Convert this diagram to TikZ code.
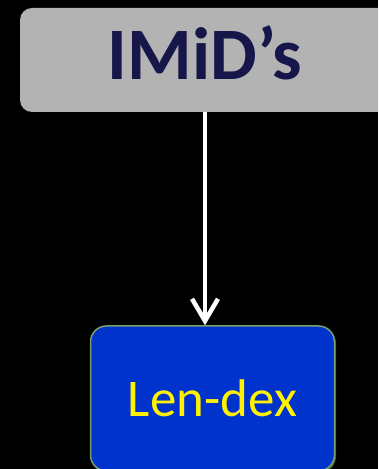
\documentclass[tikz,border=0pt]{standalone}
\usepackage{fontspec}
\setmainfont{Carlito}
\usepackage{tikz}
\usetikzlibrary{arrows.meta,shadows}
\definecolor{greybox}{HTML}{B3B3B3}
\definecolor{navytext}{HTML}{16164A}
\definecolor{bluebox}{HTML}{0033CC}
\definecolor{greenedge}{HTML}{7A9E6C}
\definecolor{greenshade}{HTML}{3F6A34}

\begin{document}
\begin{tikzpicture}[x=1pt,y=1pt]
\fill[black] (0,0) rectangle (378,469);
\clip (0,0) rectangle (378,469);
\node[fill=greybox, rounded corners=12pt, minimum width=370pt, minimum height=104pt,
  text=navytext, font=\fontsize{74}{80}\selectfont\bfseries, text depth=14pt,
  inner sep=0pt] (imids) at (205,409) {IMiD’s};
\node[fill=bluebox, draw=greenedge, line width=1.5pt, rounded corners=16pt,
  minimum width=244pt, minimum height=145pt, text=yellow,
  font=\fontsize{53}{60}\selectfont, inner sep=0pt,
  drop shadow={shadow xshift=1.5pt, shadow yshift=-1.5pt, fill=greenshade, opacity=1}]
  (lendex) at (212.5,70.5) {Len-dex};
\draw[white, line width=4.5pt, -{Straight Barb[length=22pt, width=26pt]}]
  (imids.south) -- (imids.south |- lendex.north);
\end{tikzpicture}
\end{document}
